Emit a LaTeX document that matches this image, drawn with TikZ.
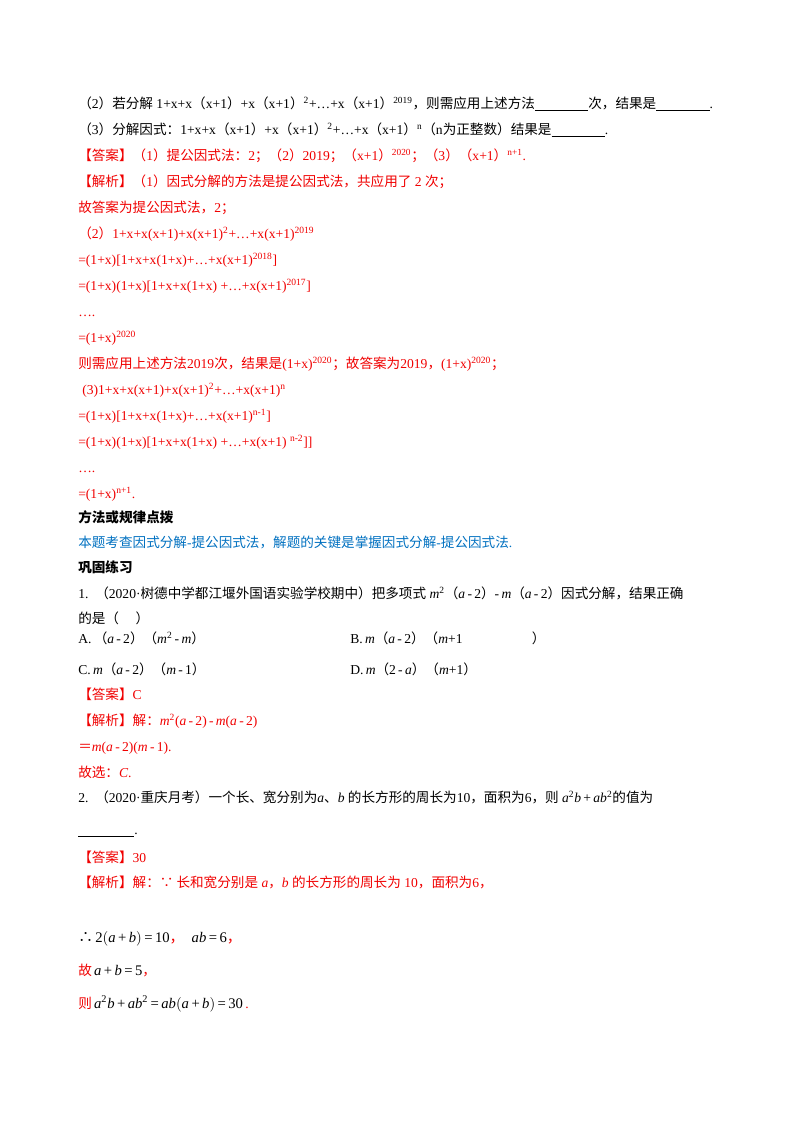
\documentclass[tikz,border=0pt]{standalone}
\usepackage{fontspec}
\setmainfont{Liberation Serif}
\newfontfamily\cjkf{Noto Sans CJK SC}
\newcommand{\z}[1]{{\cjkf #1}}
\newcommand{\sps}[1]{\textsuperscript{#1}}
\newcommand{\bl}[1]{\underline{\hspace{#1}}}
\definecolor{rd}{RGB}{240,0,0}
\definecolor{bu}{RGB}{0,112,192}
\tikzset{ln/.style={anchor=base west,inner sep=0pt,font=\fontsize{10.2}{12}\selectfont}, r/.style={ln,text=rd}, b/.style={ln,text=bu}}
\begin{document}
\begin{tikzpicture}[x=0.75pt,y=-0.75pt]
\useasboundingbox (0,0) rectangle (800,1132);
\node[ln] (l1) at (78,108) {\z{（}2\z{）若分解} 1+x+x\z{（}x+1\z{）}+x\z{（}x+1\z{）}\sps{2}+…+x\z{（}x+1\z{）}\sps{\scriptsize 2019}\z{，则需应用上述方法}\bl{40pt}\z{次，结果是}\bl{40pt}.};
\node[ln] (l2) at (78,134) {\z{（}3\z{）分解因式：}1+x+x\z{（}x+1\z{）}+x\z{（}x+1\z{）}\sps{2}+…+x\z{（}x+1\z{）}\sps{\scriptsize n}\z{（}n\z{为正整数）结果是}\bl{40pt}.};
\node[r] (l3) at (78,160) {\z{【答案】（}1\z{）提公因式法：}2\z{；（}2\z{）}2019\z{；（}x+1\z{）}\sps{\scriptsize 2020}\z{；（}3\z{）（}x+1\z{）}\sps{\scriptsize n+1}.};
\node[r] (l4) at (78,186) {\z{【解析】（}1\z{）因式分解的方法是提公因式法，共应用了} 2 \z{次；}};
\node[r] (l5) at (78,212) {\z{故答案为提公因式法，}2\z{；}};
\node[r] (l6) at (78,238) {\z{（}2\z{）}1+x+x(x+1)+x(x+1)\sps{2}+…+x(x+1)\sps{2019}};
\node[r] (l7) at (78,264) {=(1+x)[1+x+x(1+x)+…+x(x+1)\sps{2018}]};
\node[r] (l8) at (78,290) {=(1+x)(1+x)[1+x+x(1+x) +…+x(x+1)\sps{2017}]};
\node[r] (l9) at (78,316) {….};
\node[r] (l10) at (78,342) {=(1+x)\sps{2020}};
\node[r] (l11) at (78,368) {\z{则需应用上述方法}2019\z{次，结果是}(1+x)\sps{2020}\z{；故答案为}2019\z{，}(1+x)\sps{2020}\z{；}};
\node[r] (l12) at (82,394) {(3)1+x+x(x+1)+x(x+1)\sps{2}+…+x(x+1)\sps{n}};
\node[r] (l13) at (78,420) {=(1+x)[1+x+x(1+x)+…+x(x+1)\sps{n-1}]};
\node[r] (l14) at (78,446) {=(1+x)(1+x)[1+x+x(1+x) +…+x(x+1) \sps{n-2}]]};
\node[r] (l15) at (78,472) {….};
\node[r] (l16) at (78,498) {=(1+x)\sps{n+1}.};
\node[ln] (h1) at (78,522) {\z{\bfseries 方法或规律点拨}};
\node[b] (t1) at (78,547) {\z{本题考查因式分解}-\z{提公因式法，解题的关键是掌握因式分解}-\z{提公因式法}.};
\node[ln] (h2) at (78,572) {\z{\bfseries 巩固练习}};
\node[ln] (q1) at (78,598) {1.\z{\enspace（}2020·\z{树德中学都江堰外国语实验学校期中）把多项式} \textit{m}\sps{2}\z{（}\textit{a}\,-\,2\z{）}-\,\textit{m}\z{（}\textit{a}\,-\,2\z{）因式分解，结果正确}};
\node[ln] (q1b) at (78,623) {\z{的是（\quad\ ）}};
\node[ln] (oa) at (78,643) {A.\z{\,（}\textit{a}\,-\,2\z{）（}\textit{m}\sps{2}\,-\,\textit{m}\z{）}};
\node[ln] (ob) at (350,643) {B.\,\textit{m}\z{（}\textit{a}\,-\,2\z{）（}\textit{m}+1\hspace{52pt}\z{）}};
\node[ln] (oc) at (78,674) {C.\,\textit{m}\z{（}\textit{a}\,-\,2\z{）（}\textit{m}\,-\,1\z{）}};
\node[ln] (od) at (350,674) {D.\,\textit{m}\z{（}2\,-\,\textit{a}\z{）（}\textit{m}+1\z{）}};
\node[r] (a1) at (78,699) {\z{【答案】}C};
\node[r] (j1) at (78,725) {\z{【解析】解：}\textit{m}\sps{2}(\textit{a}\,-\,2)\,-\,\textit{m}(\textit{a}\,-\,2)};
\node[r] (j2) at (78,751) {\z{＝}\textit{m}(\textit{a}\,-\,2)(\textit{m}\,-\,1).};
\node[r] (j3) at (78,777) {\z{故选：}\textit{C}.};
\node[ln] (q2) at (78,802) {2.\z{\enspace（}2020·\z{重庆月考）一个长、宽分别为}\textit{a}\z{、}\textit{b} \z{的长方形的周长为}10\z{，面积为}6\z{，则} \textit{a}\sps{2}\textit{b}\,+\,\textit{ab}\sps{2}\z{的值为}};
\node[ln] (q2b) at (78,834) {\bl{42pt}.};
\node[r] (a2) at (78,862) {\z{【答案】}30};
\node[r] (j4) at (78,887) {\z{【解析】解：∵ 长和宽分别是} \textit{a}\z{，}\textit{b} \z{的长方形的周长为} 10\z{，面积为}6\z{，}};
\node[ln] (m1) at (78,942) {\fontsize{11}{12}\selectfont \z{∴}\,2$\big($\textit{a}\,+\,\textit{b}$\big)$\,=\,10\textcolor{rd}{\z{，}}\enspace\textit{ab}\,=\,6\textcolor{rd}{\z{，}}};
\node[r] (m2) at (78,975) {\z{故}\,\textcolor{black}{\fontsize{11}{12}\selectfont\textit{a}\,+\,\textit{b}\,=\,5}\z{，}};
\node[r] (m3) at (78,1008) {\z{则}\,\textcolor{black}{\fontsize{11}{12}\selectfont\textit{a}\sps{2}\textit{b}\,+\,\textit{ab}\sps{2}\,=\,\textit{ab}$\big($\textit{a}\,+\,\textit{b}$\big)$\,=\,30}\,.};
\end{tikzpicture}
\end{document}
